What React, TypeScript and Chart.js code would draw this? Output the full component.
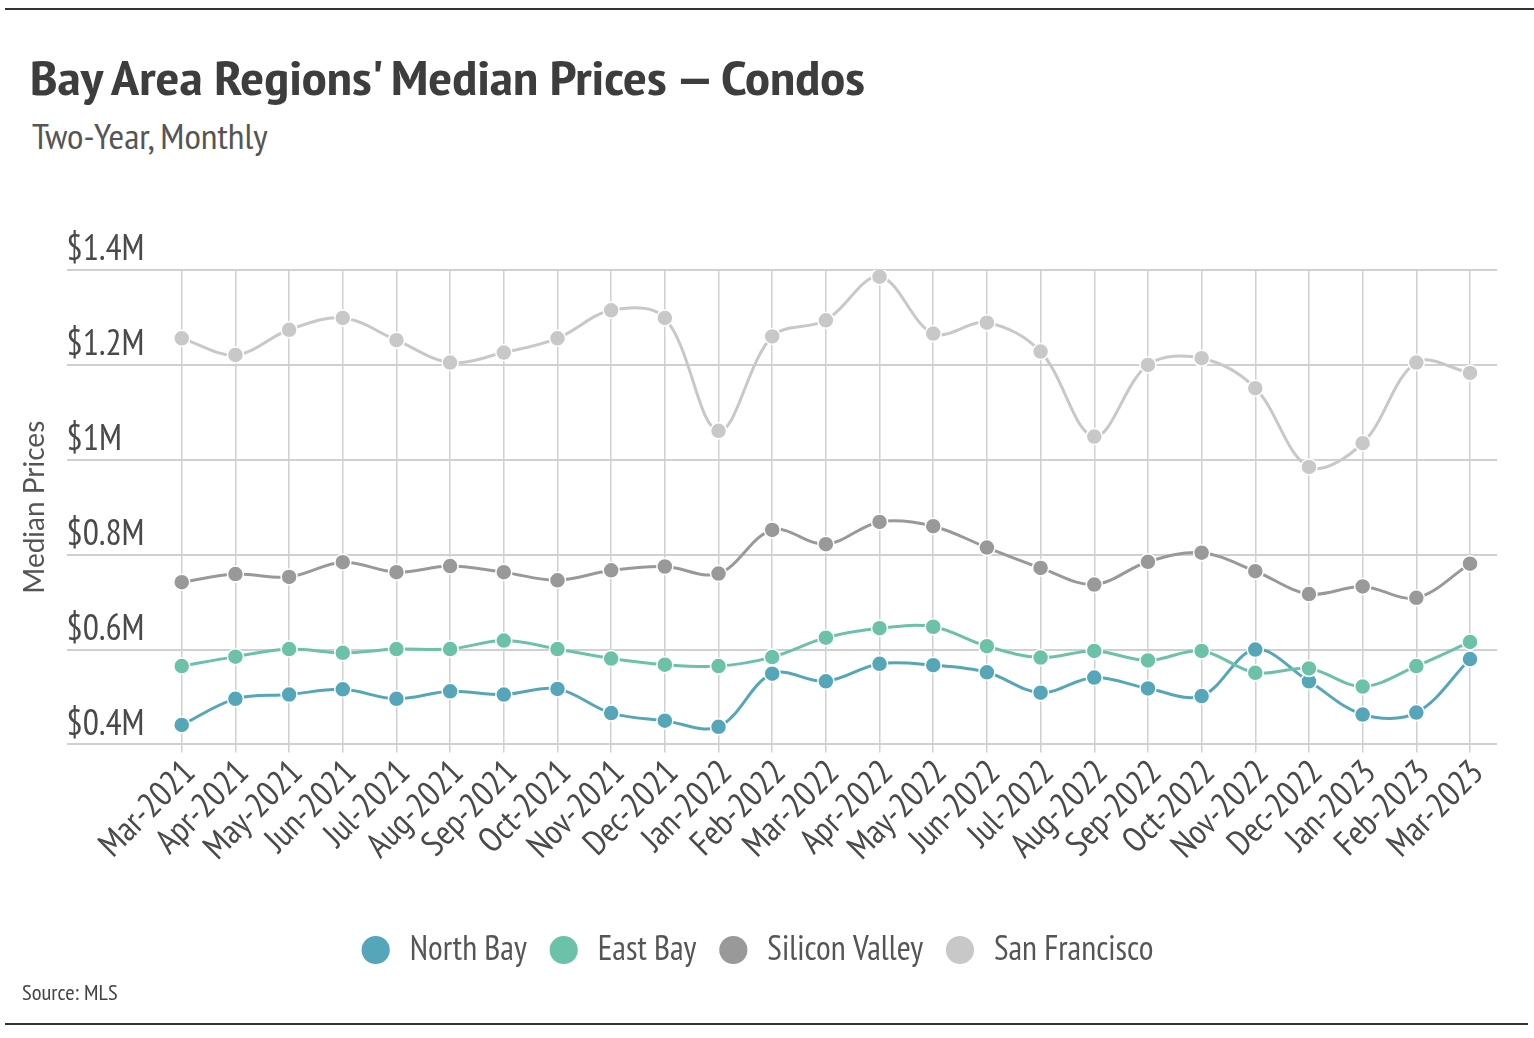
import React, { useEffect, useRef } from "react";
import { Chart, registerables } from "chart.js";

Chart.register(...registerables);

const months = [
  "Mar-2021", "Apr-2021", "May-2021", "Jun-2021", "Jul-2021", "Aug-2021", "Sep-2021",
  "Oct-2021", "Nov-2021", "Dec-2021", "Jan-2022", "Feb-2022", "Mar-2022", "Apr-2022",
  "May-2022", "Jun-2022", "Jul-2022", "Aug-2022", "Sep-2022", "Oct-2022", "Nov-2022",
  "Dec-2022", "Jan-2023", "Feb-2023", "Mar-2023",
];

// Median prices, in millions of dollars
const northBay = [
  0.441, 0.496, 0.505, 0.516, 0.496, 0.512, 0.505, 0.517, 0.466, 0.45, 0.437, 0.549, 0.533,
  0.57, 0.567, 0.552, 0.509, 0.541, 0.518, 0.502, 0.6, 0.533, 0.463, 0.467, 0.58,
];
const eastBay = [
  0.565, 0.585, 0.601, 0.593, 0.601, 0.601, 0.619, 0.601, 0.581, 0.568, 0.565, 0.584, 0.625,
  0.645, 0.648, 0.607, 0.583, 0.597, 0.577, 0.597, 0.551, 0.56, 0.522, 0.565, 0.616,
];
const siliconValley = [
  0.742, 0.759, 0.753, 0.784, 0.763, 0.776, 0.763, 0.746, 0.767, 0.775, 0.76, 0.852, 0.822,
  0.869, 0.86, 0.815, 0.772, 0.737, 0.785, 0.804, 0.765, 0.717, 0.733, 0.709, 0.781,
];
const sanFrancisco = [
  1.256, 1.221, 1.274, 1.299, 1.252, 1.205, 1.226, 1.256, 1.315, 1.299, 1.061, 1.26, 1.294,
  1.386, 1.266, 1.289, 1.228, 1.049, 1.2, 1.214, 1.151, 0.985, 1.035, 1.205, 1.183,
];

const seriesNames = ["North Bay", "East Bay", "Silicon Valley", "San Francisco"];
const seriesValues = [northBay, eastBay, siliconValley, sanFrancisco];
const seriesColors = ["#55a6b9", "#6cc1a9", "#999999", "#c8c8c8"];
const seriesOrder = [1, 0, 2, 3];

const yTickValues = [0.4, 0.6, 0.8, 1.0, 1.2, 1.4];

const NARROW =
  "'PT Sans Narrow', 'Liberation Sans Narrow', 'Arial Narrow', 'DejaVu Sans Condensed', 'Roboto Condensed', sans-serif";

function PriceChart() {
  const canvasRef = useRef<HTMLCanvasElement | null>(null);

  useEffect(() => {
    if (!canvasRef.current) return;
    const chart = new Chart(canvasRef.current, {
      type: "line",
      data: {
        datasets: seriesNames.map((name, s) => ({
          label: name,
          data: seriesValues[s].map((v, i) => ({ x: i, y: v })),
          borderColor: seriesColors[s],
          backgroundColor: seriesColors[s],
          pointBackgroundColor: seriesColors[s],
          pointBorderColor: "#ffffff",
          pointBorderWidth: 1.5,
          pointRadius: 8,
          pointHoverRadius: 8,
          borderWidth: 3,
          tension: 0.35,
          order: seriesOrder[s],
        })),
      },
      options: {
        animation: false,
        responsive: true,
        maintainAspectRatio: false,
        layout: { padding: { top: 90, left: 7, right: 29, bottom: 3 } },
        plugins: {
          tooltip: { enabled: false },
          title: { display: false },
          legend: {
            display: true,
            position: "bottom",
            labels: {
              usePointStyle: true,
              pointStyle: "circle",
              boxWidth: 34,
              boxHeight: 21,
              padding: 20,
              color: "#555555",
              font: { family: NARROW, size: 34 },
              sort: (a: any, b: any) => a.datasetIndex - b.datasetIndex,
            },
          },
        },
        scales: {
          x: {
            type: "linear",
            min: -2.145,
            max: 24.503,
            afterBuildTicks: (axis: any) => {
              axis.ticks = months.map((_, i) => ({ value: i }));
            },
            afterFit: (scale: any) => {
              scale.height = 168.6;
            },
            grid: {
              color: "#d0d0d0",
              lineWidth: 1.5,
              tickLength: 8,
              drawOnChartArea: true,
            },
            border: { display: false },
            ticks: {
              autoSkip: false,
              minRotation: 45,
              maxRotation: 45,
              padding: 0,
              labelOffset: 8,
              color: "#4a4a4a",
              font: { family: NARROW, size: 35 },
              callback: (v: any) => months[Math.round(Number(v))] ?? "",
            },
          },
          y: {
            type: "linear",
            min: 0.4,
            max: 1.4,
            afterBuildTicks: (axis: any) => {
              axis.ticks = yTickValues.map((v) => ({ value: v }));
            },
            grid: { color: "#d0d0d0", lineWidth: 2, drawTicks: false },
            border: { display: false },
            title: {
              display: true,
              text: "Median Prices",
              color: "#555555",
              font: { family: "Lato, 'Noto Sans', sans-serif", size: 28 },
              padding: { top: 3, bottom: 15 },
            },
            ticks: {
              mirror: true,
              padding: 0,
              labelOffset: -20,
              color: "#4a4a4a",
              font: { family: NARROW, size: 36 },
              callback: (v: any) => "$" + String(Number(Number(v).toFixed(1))) + "M",
            },
          },
        },
      },
    });
    return () => chart.destroy();
  }, []);

  return (
    <div style={{ position: "absolute", left: 8, top: 180, width: 1518, height: 800 }}>
      <canvas ref={canvasRef} />
    </div>
  );
}

export default function App() {
  return (
    <div
      style={{
        position: "absolute",
        left: 0,
        top: 0,
        width: 1534,
        height: 1038,
        background: "#ffffff",
        fontFamily: NARROW,
        overflow: "hidden",
      }}
    >
      <div style={{ position: "absolute", left: 5, top: 8, width: 1529, height: 2, background: "#333333" }} />
      <div
        style={{
          position: "absolute",
          left: 30,
          top: 53,
          fontSize: 48,
          lineHeight: "48px",
          fontWeight: 700,
          color: "#3d3d3d",
          whiteSpace: "nowrap",
          transform: "scaleX(1.169)",
          transformOrigin: "left top",
        }}
      >
        Bay Area Regions' Median Prices — Condos
      </div>
      <div
        style={{
          position: "absolute",
          left: 32,
          top: 119,
          fontSize: 34,
          lineHeight: "34px",
          color: "#555555",
          whiteSpace: "nowrap",
          transform: "scaleX(1.114)",
          transformOrigin: "left top",
        }}
      >
        Two-Year, Monthly
      </div>
      <PriceChart />
      <div
        style={{
          position: "absolute",
          left: 22,
          top: 981,
          fontSize: 22,
          lineHeight: "22px",
          color: "#444444",
          whiteSpace: "nowrap",
          transform: "scaleX(1.03)",
          transformOrigin: "left top",
        }}
      >
        Source: MLS
      </div>
      <div style={{ position: "absolute", left: 5, top: 1023, width: 1523, height: 2, background: "#333333" }} />
    </div>
  );
}
